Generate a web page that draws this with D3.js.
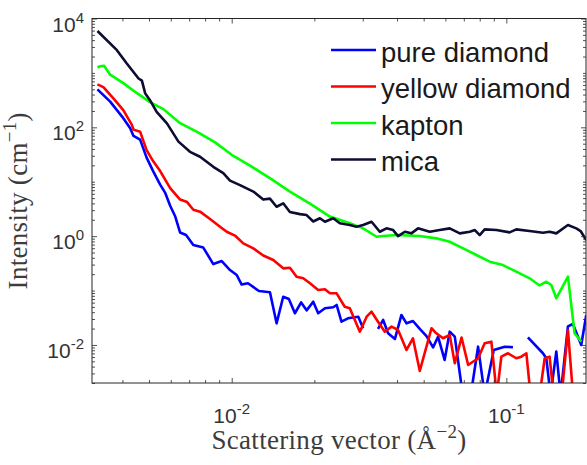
<!DOCTYPE html>
<html>
<head>
<meta charset="utf-8">
<script src="https://cdnjs.cloudflare.com/ajax/libs/d3/7.8.5/d3.min.js"></script>
<style>
    html, body { margin: 0; padding: 0; background: #fff; }
    svg { display: block; }
</style>
</head>
<body>
<div id="chart"></div>
<script>

// values (q in 1/A^2, intensity in 1/cm)
// null = gap in the curve, 0.0012 = point below the visible range
var pureQ = [3.245e-3, 3.61e-3, 4.03e-3, 4.27e-3, 4.39e-3, 4.64e-3, 4.90e-3, 5.18e-3, 5.49e-3, 5.72e-3,
    5.97e-3, 6.23e-3, 6.49e-3, 6.82e-3, 7.25e-3, 7.88e-3, 8.57e-3, 9.20e-3, 9.86e-3, 1.043e-2,
    1.087e-2, 1.146e-2, 1.257e-2, 1.378e-2, 1.457e-2, 1.540e-2, 1.615e-2, 1.699e-2, 1.790e-2, 1.874e-2,
    1.981e-2, 2.065e-2, 2.185e-2, 2.342e-2, 2.41e-2, 2.51e-2, 2.65e-2, 2.89e-2, 3.01e-2, 3.20e-2,
    3.41e-2, 3.56e-2, 3.71e-2, 3.93e-2, 4.15e-2, 4.33e-2, 4.57e-2, 4.84e-2, 5.12e-2, 5.41e-2,
    5.64e-2, 5.96e-2, 6.22e-2, 6.49e-2, 6.94e-2, 7.42e-2, 7.89e-2, 8.34e-2, 9.0e-2, 9.86e-2,
    0.1057, 0.113, 0.1198, 0.1359, 0.1398, 0.1449, 0.152, 0.1576, 0.1676, 0.1747,
    0.1874, 0.1954];
var pureI = [498, 297, 147.5, 96.6, 69.5, 59.4, 27.8, 15.5, 8.87, 6.32,
    3.62, 2.29, 1.164, 1.047, 0.686, 0.617, 0.307, 0.349, 0.2384, 0.193,
    0.129, 0.136, 0.098, 0.0932, 0.025, 0.077, 0.070, 0.0383, 0.0604, 0.0433,
    0.0624, 0.0383, 0.0472, 0.0493, 0.0543, 0.0268, 0.0309, 0.0331, 0.0203, null,
    0.0197, 0.0288, 0.0164, 0.0129, 0.0356, 0.025, 0.0276, 0.0197, 0.0146, 0.0090,
    0.0142, 0.0053, 0.01755, 0.0142, 0.0012, 0.0012, 0.0093, 0.0012, 0.0081, 0.0093,
    0.0091, null, 0.01373, 0.00704, 0.0057, 0.0012, 0.00754, 0.0012, 0.0219, 0.0243,
    0.0100, 0.0356];

var yellowQ = [3.245e-3, 3.41e-3, 3.73e-3, 4.03e-3, 4.33e-3, 4.39e-3, 4.64e-3, 4.90e-3, 5.18e-3, 5.49e-3,
    5.97e-3, 6.49e-3, 6.88e-3, 7.25e-3, 7.67e-3, 8.34e-3, 9.07e-3, 9.59e-3, 1.028e-2, 1.102e-2,
    1.199e-2, 1.303e-2, 1.417e-2, 1.540e-2, 1.629e-2, 1.723e-2, 1.822e-2, 1.927e-2, 2.065e-2, 2.185e-2,
    2.278e-2, 2.41e-2, 2.58e-2, 2.692e-2, 2.928e-2, 3.10e-2, 3.23e-2, 3.41e-2, 3.61e-2, 3.82e-2,
    4.035e-2, 4.33e-2, 4.57e-2, 4.84e-2, 5.34e-2, 5.56e-2, 5.88e-2, 6.22e-2, 6.49e-2, 6.87e-2,
    7.26e-2, 7.89e-2, 8.34e-2, 8.82e-2, 9.23e-2, 9.59e-2, 0.1014, 0.1087, 0.1134, 0.1183,
    0.1225, 0.1322, 0.1379, 0.1437, 0.1486, 0.159, 0.1676, 0.1749];
var yellowI = [616, 548, 330, 207, 111, 90.7, 83.3, 38.1, 23.7, 15.7,
    7.65, 4.70, 4.23, 3.05, 2.82, 2.07, 1.49, 1.204, 1.025, 0.737,
    0.597, 0.441, 0.364, 0.256, 0.262, 0.1796, 0.168, 0.136, 0.1023, 0.1054,
    0.089, 0.089, 0.0505, 0.0472, 0.01755, 0.0331, 0.0409, 0.0268, 0.01755, 0.0217,
    0.01886, 0.0081, 0.01327, 0.00333, 0.0203, 0.0164, 0.01327, 0.01526, 0.00461, 0.01373,
    0.00429, 0.0057, 0.01075, 0.0115, 0.0012, 0.0061, 0.00704, 0.0057, 0.0061, 0.00704,
    0.0012, 0.0012, 0.0057, 0.0061, 0.0012, 0.0012, 0.01886, 0.0012];

var kaptonQ = [3.245e-3, 3.32e-3, 3.43e-3, 3.61e-3, 4.03e-3, 4.52e-3, 5.04e-3, 5.64e-3, 6.49e-3, 7.54e-3,
    8.70e-3, 1.003e-2, 1.166e-2, 1.395e-2, 1.629e-2, 1.927e-2, 2.278e-2, 2.692e-2, 3.01e-2, 3.37e-2,
    3.56e-2, 3.98e-2, 4.84e-2, 5.56e-2, 6.22e-2, 6.96e-2, 7.78e-2, 8.70e-2, 9.72e-2, 0.1087,
    0.1215, 0.1322, 0.1398, 0.1458, 0.152, 0.1676, 0.1772, 0.1874];
var kaptonI = [1260, 1330, 1350, 928, 649, 424, 290, 216, 119, 80.6,
    52.8, 30.9, 19.8, 11.2, 6.60, 3.97, 2.29, 1.72, 1.39, 0.974,
    1.004, 1.047, 1.004, 0.911, 0.789, 0.597, 0.450, 0.339, 0.294, 0.222,
    0.168, 0.124, 0.1454, 0.1264, 0.0721, 0.181, 0.0164, 0.0115];

var micaQ = [3.245e-3, 3.82e-3, 4.15e-3, 4.58e-3, 4.71e-3, 4.84e-3, 5.04e-3, 5.33e-3, 5.81e-3, 6.40e-3,
    7.05e-3, 7.67e-3, 8.57e-3, 9.32e-3, 9.86e-3, 1.072e-2, 1.199e-2, 1.303e-2, 1.378e-2, 1.457e-2,
    1.540e-2, 1.629e-2, 1.772e-2, 1.874e-2, 1.981e-2, 2.095e-2, 2.185e-2, 2.342e-2, 2.476e-2, 2.692e-2,
    2.847e-2, 3.01e-2, 3.23e-2, 3.462e-2, 3.66e-2, 3.87e-2, 4.035e-2, 4.27e-2, 4.51e-2, 4.77e-2,
    5.26e-2, 5.72e-2, 6.22e-2, 6.77e-2, 7.36e-2, 7.68e-2, 8.00e-2, 8.34e-2, 9.20e-2, 0.1028,
    0.1087, 0.1215, 0.1359, 0.1437, 0.152, 0.1676, 0.1797, 0.1864, 0.1954];
var micaI = [5900, 2617, 1490, 790, 720, 424, 316, 193, 118, 54.6,
    35.5, 28.8, 18.8, 14.4, 10.5, 8.68, 6.60, 4.70, 4.90, 3.47,
    4.01, 2.77, 2.54, 2.44, 1.86, 2.13, 1.84, 2.13, 1.72, 1.60,
    1.49, 1.60, 1.84, 1.204, 1.39, 1.294, 1.004, 1.204, 1.125, 1.39,
    1.204, 1.294, 1.39, 1.125, 1.204, 1.294, 1.047, 1.33, 1.294, 1.174,
    1.333, 1.24, 1.154, 1.204, 1.125, 1.60, 1.39, 1.24, 0.848];

var seriesNames = ["pure diamond", "yellow diamond", "kapton", "mica"];
var seriesColors = ["#0000ff", "#ff0000", "#00ff00", "#0d0d33"];

// axis limits and labelled ticks (exponents of 10)
var xDomain = [0.0031, 0.195];
var yDomain = [0.002, 1e4];
var xTickExp = [-2, -1];
var yTickExp = [-2, 0, 2, 4];

(function(d3){

    var width = 587, height = 465;
    var margin = {top: 18.5, right: 1, bottom: 82, left: 92};
    var axisColor = "#262626";

    var series = [
        {name: seriesNames[0], q: pureQ, I: pureI, color: seriesColors[0]},
        {name: seriesNames[1], q: yellowQ, I: yellowI, color: seriesColors[1]},
        {name: seriesNames[2], q: kaptonQ, I: kaptonI, color: seriesColors[2]},
        {name: seriesNames[3], q: micaQ, I: micaI, color: seriesColors[3]}
    ];

    var svg = d3.select("#chart").append("svg")
            .attr("width", width)
            .attr("height", height);

    var x = d3.scaleLog().domain(xDomain).range([margin.left, width - margin.right]);
    var y = d3.scaleLog().domain(yDomain).range([height - margin.bottom, margin.top]);

    var x0 = x.range()[0], x1 = x.range()[1];
    var y0 = y.range()[0], y1 = y.range()[1];

    svg.append("clipPath").attr("id", "plotClip")
            .append("rect")
            .attr("x", x0).attr("y", y1)
            .attr("width", x1 - x0).attr("height", y0 - y1);

    // curves
    var line = d3.line()
            .defined(function(d){ return d[1] != null; })
            .x(function(d){ return x(d[0]); })
            .y(function(d){ return y(d[1]); });

    var curves = svg.append("g").attr("clip-path", "url(#plotClip)");
    series.forEach(function(s){
        var pts = s.q.map(function(q, i){ return [q, s.I[i]]; });
        curves.append("path")
                .datum(pts)
                .attr("d", line)
                .attr("fill", "none")
                .attr("stroke", s.color)
                .attr("stroke-width", 2.6)
                .attr("stroke-linejoin", "round");
    });

    // ticks
    function isMajor(v, exps){
        var e = Math.log10(v);
        return exps.some(function(m){ return Math.abs(e - m) < 1e-9; });
    }
    var xMajor = xTickExp.map(function(e){ return Math.pow(10, e); });
    var yMajor = yTickExp.map(function(e){ return Math.pow(10, e); });
    var xMinor = x.ticks().filter(function(v){ return !isMajor(v, xTickExp); });
    var yMinor = y.ticks().filter(function(v){ return !isMajor(v, yTickExp); });

    function drawAxis(axis, tx, ty){
        svg.append("g")
                .attr("transform", "translate(" + tx + "," + ty + ")")
                .attr("color", axisColor)
                .call(axis.tickFormat("").tickSizeOuter(0))
                .call(function(g){ g.select(".domain").remove(); })
                .selectAll("line").attr("stroke-width", 0.8);
    }
    drawAxis(d3.axisBottom(x).tickValues(xMajor).tickSizeInner(-5), 0, y0);
    drawAxis(d3.axisBottom(x).tickValues(xMinor).tickSizeInner(-3), 0, y0);
    drawAxis(d3.axisTop(x).tickValues(xMajor).tickSizeInner(-5), 0, y1);
    drawAxis(d3.axisTop(x).tickValues(xMinor).tickSizeInner(-3), 0, y1);
    drawAxis(d3.axisLeft(y).tickValues(yMajor).tickSizeInner(-5), x0, 0);
    drawAxis(d3.axisLeft(y).tickValues(yMinor).tickSizeInner(-3), x0, 0);
    drawAxis(d3.axisRight(y).tickValues(yMajor).tickSizeInner(-5), x1, 0);
    drawAxis(d3.axisRight(y).tickValues(yMinor).tickSizeInner(-3), x1, 0);

    // box
    svg.append("rect")
            .attr("x", x0).attr("y", y1)
            .attr("width", x1 - x0).attr("height", y0 - y1)
            .attr("fill", "none")
            .attr("stroke", axisColor)
            .attr("stroke-width", 1);

    // tick labels 10^n
    function powLabel(sel, e){
        sel.append("tspan").text("10");
        sel.append("tspan").attr("dy", -9).attr("font-size", 15)
                .text(e < 0 ? "-" + (-e) : String(e));
    }
    xTickExp.forEach(function(e){
        svg.append("text")
                .attr("x", x(Math.pow(10, e)))
                .attr("y", 422.5)
                .attr("text-anchor", "middle")
                .attr("font-family", "'Liberation Sans', Arial, sans-serif")
                .attr("font-size", 21)
                .attr("fill", "#333")
                .call(powLabel, e);
    });
    yTickExp.forEach(function(e){
        svg.append("text")
                .attr("x", 84)
                .attr("y", y(Math.pow(10, e)) + 13)
                .attr("text-anchor", "end")
                .attr("font-family", "'Liberation Sans', Arial, sans-serif")
                .attr("font-size", 21)
                .attr("fill", "#333")
                .call(powLabel, e);
    });

    // axis titles
    var serif = "'Liberation Serif', 'Times New Roman', serif";
    var xt = svg.append("text")
            .attr("x", (x0 + x1) / 2)
            .attr("y", 449)
            .attr("text-anchor", "middle")
            .attr("font-family", serif)
            .attr("font-size", 27)
            .attr("letter-spacing", 0.3)
            .attr("fill", "#3c3c3c");
    xt.append("tspan").text("Scattering vector (\u00C5");
    xt.append("tspan").attr("dy", -11).attr("font-size", 19).text("\u22122");
    xt.append("tspan").attr("dy", 11).text(")");

    var yt = svg.append("text")
            .attr("transform", "translate(27," + ((y0 + y1) / 2) + ") rotate(-90)")
            .attr("text-anchor", "middle")
            .attr("font-family", serif)
            .attr("font-size", 27)
            .attr("letter-spacing", 0.3)
            .attr("fill", "#3c3c3c");
    yt.append("tspan").text("Intensity (cm");
    yt.append("tspan").attr("dy", -11).attr("font-size", 19).text("\u22121");
    yt.append("tspan").attr("dy", 11).text(")");

    // legend
    var legend = svg.append("g");
    series.forEach(function(s, i){
        var ly = 50 + i * 36.5;
        legend.append("line")
                .attr("x1", 331).attr("x2", 376)
                .attr("y1", ly).attr("y2", ly)
                .attr("stroke", s.color)
                .attr("stroke-width", 2.6);
        legend.append("text")
                .attr("x", 381)
                .attr("y", ly + 11.5)
                .attr("font-family", "'Liberation Sans', Arial, sans-serif")
                .attr("font-size", 27.5)
                .attr("fill", "#1a1a1a")
                .text(s.name);
    });

})(d3);
</script>
</body>
</html>
